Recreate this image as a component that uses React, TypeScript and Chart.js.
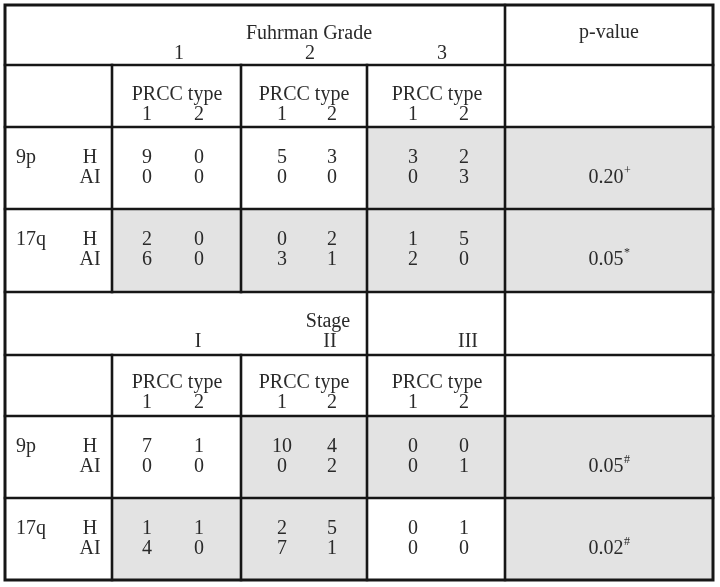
import React, { useEffect, useRef } from "react";
import { Chart, registerables } from "chart.js";

Chart.register(...registerables);

// ---------- data ----------
const groupTitles = ["Fuhrman Grade", "Stage"];
const gradeLabels = ["1", "2", "3"];
const stageLabels = ["I", "II", "III"];
const prccTitle = "PRCC type";
const prccTypes = ["1", "2"];
const regionLabels = ["9p", "17q"];
const alleleLabels = ["H", "AI"];
const pTitle = "p-value";

// per column: [H type1, H type2, AI type1, AI type2]
const grade9p = [[9, 0, 0, 0], [5, 3, 0, 0], [3, 2, 0, 3]];
const grade17q = [[2, 0, 6, 0], [0, 2, 3, 1], [1, 5, 2, 0]];
const stage9p = [[7, 1, 0, 0], [10, 4, 0, 2], [0, 0, 0, 1]];
const stage17q = [[1, 1, 4, 0], [2, 5, 7, 1], [0, 1, 0, 0]];

const pGrade = ["0.20", "0.05"];
const pGradeMarks = ["+", "*"];
const pStage = ["0.05", "0.02"];
const pStageMarks = ["#", "#"];

// shading: 3 data columns + p-value column
const gradeShade = [[0, 0, 1, 1], [1, 1, 1, 1]];
const stageShade = [[0, 1, 1, 1], [1, 1, 0, 1]];

// ---------- layout (units of the hidden linear scales) ----------
const X_EDGES = [5, 112, 241, 367, 505, 713];
const Y_EDGES = [5, 65, 127, 209, 292, 355, 416, 498, 580];
const SUB_X = [[147, 199], [282, 332], [413, 464]];
const PRCC_X = [177, 304, 437];
const GRADE_LABEL_X = [179, 310, 442];
const STAGE_LABEL_X = [198, 330, 468];

const FONT = '"Liberation Serif", "Times New Roman", serif';
const INK = "#2a2a2a";
const LINE = "#161616";
const SHADE = "#e3e3e3";

const tablePlugin = {
  id: "tablePlugin",
  beforeDatasetsDraw(chart: any) {
    const ctx = chart.ctx as CanvasRenderingContext2D;
    const xs = chart.scales.x;
    const ys = chart.scales.y;
    const X = (v: number) => xs.getPixelForValue(v);
    const Y = (v: number) => ys.getPixelForValue(v);

    const text = (s: string, x: number, y: number, align: CanvasTextAlign = "center", size = 20) => {
      ctx.font = `${size}px ${FONT}`;
      ctx.fillStyle = INK;
      ctx.textAlign = align;
      ctx.textBaseline = "alphabetic";
      ctx.fillText(s, X(x), Y(y));
    };

    ctx.save();

    // shading
    const sections = [
      { shade: gradeShade, rowTop: 2 },
      { shade: stageShade, rowTop: 6 },
    ];
    ctx.fillStyle = SHADE;
    sections.forEach((sec) => {
      sec.shade.forEach((row, r) => {
        row.forEach((s, c) => {
          if (!s) return;
          const x0 = X(X_EDGES[c + 1]);
          const x1 = X(X_EDGES[c + 2]);
          const y0 = Y(Y_EDGES[sec.rowTop + r]);
          const y1 = Y(Y_EDGES[sec.rowTop + r + 1]);
          ctx.fillRect(x0, y0, x1 - x0, y1 - y0);
        });
      });
    });

    // lines
    ctx.strokeStyle = LINE;
    ctx.lineWidth = 2.6;
    ctx.lineCap = "square";
    const seg = (x0: number, y0: number, x1: number, y1: number) => {
      ctx.beginPath();
      ctx.moveTo(X(x0), Y(y0));
      ctx.lineTo(X(x1), Y(y1));
      ctx.stroke();
    };
    const L = X_EDGES[0], R = X_EDGES[5];
    const T = Y_EDGES[0], B = Y_EDGES[8];
    for (let i = 1; i < Y_EDGES.length - 1; i++) seg(L, Y_EDGES[i], R, Y_EDGES[i]);
    seg(X_EDGES[4], T, X_EDGES[4], B);
    seg(X_EDGES[3], Y_EDGES[1], X_EDGES[3], B);
    [1, 2].forEach((c) => {
      seg(X_EDGES[c], Y_EDGES[1], X_EDGES[c], Y_EDGES[4]);
      seg(X_EDGES[c], Y_EDGES[5], X_EDGES[c], B);
    });
    ctx.lineWidth = 3;
    ctx.strokeRect(X(L), Y(T), X(R) - X(L), Y(B) - Y(T));

    // headers
    const pCenter = (X_EDGES[4] + X_EDGES[5]) / 2;
    text(groupTitles[0], 309, 39);
    gradeLabels.forEach((g, i) => text(g, GRADE_LABEL_X[i], 59));
    text(pTitle, pCenter, 38);
    text(groupTitles[1], 328, 327);
    stageLabels.forEach((g, i) => text(g, STAGE_LABEL_X[i], 347));

    const subBase = [100, 388];
    subBase.forEach((b) => {
      PRCC_X.forEach((px, i) => {
        text(prccTitle, px, b);
        prccTypes.forEach((t, j) => text(t, SUB_X[i][j], b + 20));
      });
    });

    // data rows
    const blocks = [
      { data: [grade9p, grade17q], p: pGrade, m: pGradeMarks, base: [163, 245] },
      { data: [stage9p, stage17q], p: pStage, m: pStageMarks, base: [452, 534] },
    ];
    blocks.forEach((blk) => {
      blk.data.forEach((cols, r) => {
        const bH = blk.base[r];
        const bA = bH + 20;
        text(regionLabels[r], 16, bH, "left");
        text(alleleLabels[0], 90, bH);
        text(alleleLabels[1], 90, bA);
        cols.forEach((v, c) => {
          text(String(v[0]), SUB_X[c][0], bH);
          text(String(v[1]), SUB_X[c][1], bH);
          text(String(v[2]), SUB_X[c][0], bA);
          text(String(v[3]), SUB_X[c][1], bA);
        });
        // p-value with superscript
        ctx.font = `20px ${FONT}`;
        const w = ctx.measureText(blk.p[r]).width;
        const cx = pCenter - 3;
        text(blk.p[r], cx, bA);
        text(blk.m[r], cx + w / 2 + 0.5, bA - 9, "left", 12);
      });
    });

    ctx.restore();
  },
};

export default function App() {
  const ref = useRef<HTMLCanvasElement | null>(null);
  useEffect(() => {
    document.body.style.margin = "0";
    document.body.style.background = "#ffffff";
    const canvas = ref.current;
    if (!canvas) return;
    const chart = new Chart(canvas, {
      type: "scatter",
      data: { datasets: [{ data: [], pointRadius: 0 }] },
      options: {
        animation: false,
        responsive: false,
        devicePixelRatio: 1,
        layout: { padding: 0 },
        plugins: { legend: { display: false }, tooltip: { enabled: false } },
        scales: {
          x: { type: "linear", min: 0, max: 720, display: false },
          y: { type: "linear", min: 0, max: 587, reverse: true, display: false },
        },
      },
      plugins: [tablePlugin],
    });
    return () => chart.destroy();
  }, []);
  return (
    <div style={{ width: 720, height: 587, background: "#fff" }}>
      <canvas ref={ref} width={720} height={587} style={{ display: "block" }} />
    </div>
  );
}
